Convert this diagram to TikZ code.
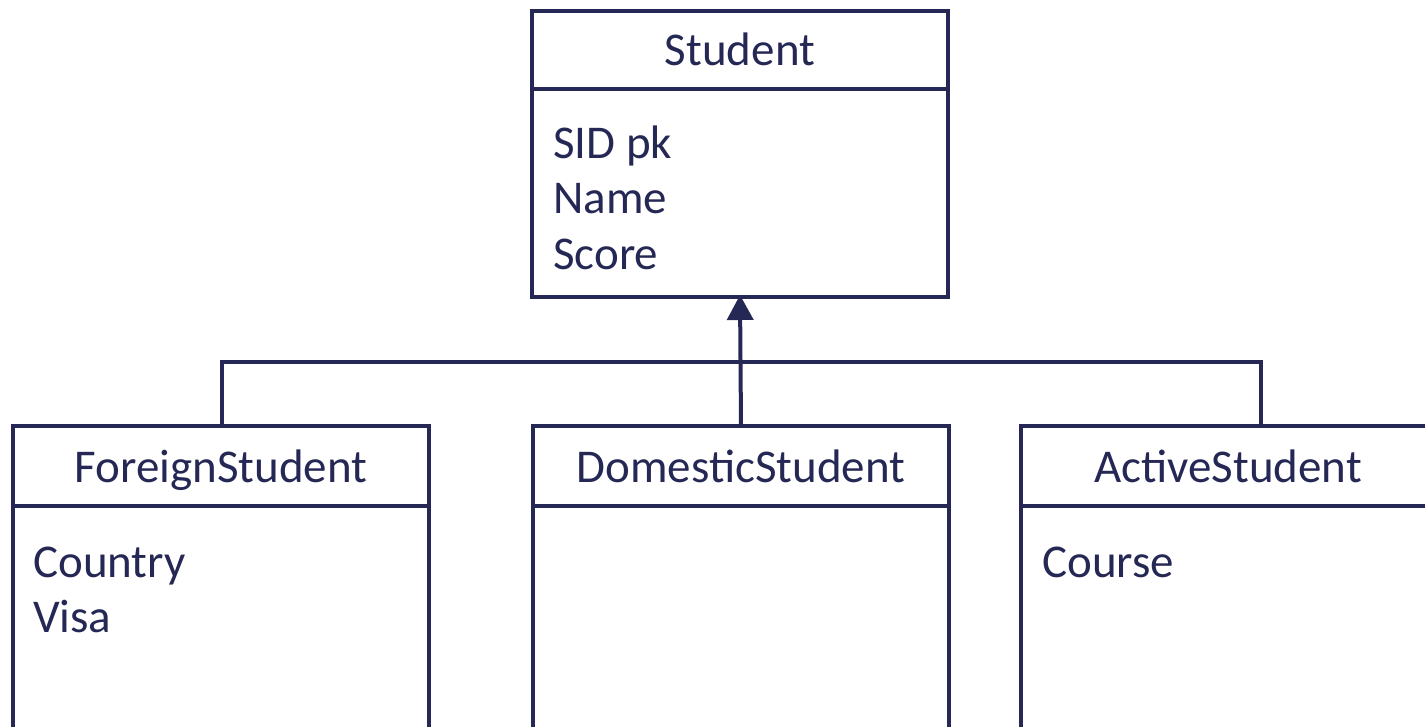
\documentclass[tikz,border=0pt]{standalone}
\usepackage{fontspec}
\setmainfont{Carlito}
\usetikzlibrary{arrows.meta}
\definecolor{umlnavy}{RGB}{37,40,84}
\begin{document}
\begin{tikzpicture}[x=1pt,y=-1pt,
  classbox/.style={draw=umlnavy, line width=4pt, rectangle, inner sep=0pt, outer sep=0pt,
    minimum width=#1},
  classbox/.default=416pt,
  title/.style={font=\fontsize{47}{56}\selectfont, text=umlnavy, anchor=base, inner sep=0pt},
  attr/.style={font=\fontsize{47}{56}\selectfont, text=umlnavy, anchor=base west, inner sep=0pt},
  link/.style={draw=umlnavy, line width=4pt},
]
\useasboundingbox (0,0) rectangle (1425,726);
\clip (0,0) rectangle (1425,726);

% parent class
\node[classbox, minimum height=286pt] (student) at (740,154) {};
\draw[link] ([yshift=-78pt]student.north west) -- ([yshift=-78pt]student.north east);
\node[title] (studentT) at (740,65) {Student};
\node[attr] (sid) at (553,158) {SID pk};
\node[attr] (name) at (553,213) {Name};
\node[attr] (score) at (553,269) {Score};

% subclasses (running past the lower edge)
\node[classbox, minimum height=374pt] (foreign) at (221,613) {};
\node[classbox, minimum height=374pt] (domestic) at (741,613) {};
\node[classbox=414pt, minimum height=374pt] (active) at (1228,613) {};
\foreach \c in {foreign,domestic,active}
  \draw[link] ([yshift=-80pt]\c.north west) -- ([yshift=-80pt]\c.north east);

\node[title] (foreignT) at (221,482) {ForeignStudent};
\node[title] (domesticT) at (741,482) {DomesticStudent};
\node[title] (activeT) at (1228,482) {ActiveStudent};

\node[attr] (country) at (33,577) {Country};
\node[attr] (visa) at (33,632) {Visa};
\node[attr] (course) at (1042,577) {Course};

% generalization connectors
\coordinate (busL) at (222,362);
\coordinate (busR) at (1261,362);
\draw[link] (foreign.north -| busL) -- (busL) -- (busR) -- (active.north -| busR);
\draw[link, -{Triangle[length=25pt 0 0,width=26pt 0 0]}] (domestic.north) -- ([yshift=2pt]student.south);
\end{tikzpicture}
\end{document}
